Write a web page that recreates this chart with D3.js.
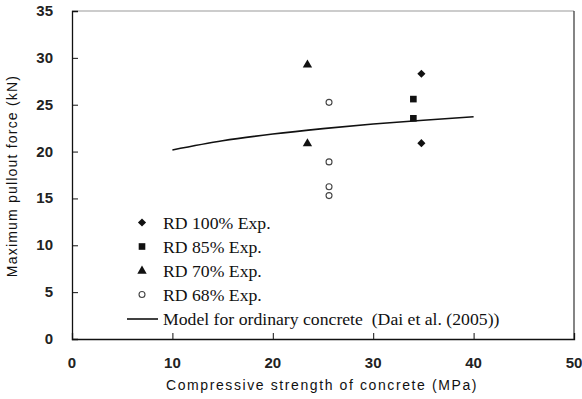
<!DOCTYPE html>
<html>
<head>
<meta charset="utf-8">
<script src="https://cdn.jsdelivr.net/npm/d3@7"></script>
<style>
  html, body { margin: 0; padding: 0; background: #fff; }
  svg { display: block; }
</style>
</head>
<body>
<svg id="chart" width="582" height="399"></svg>
<script>
// Experimental pullout results, grouped by relative density (RD)
const rd100 = [[34.8, 28.3], [34.8, 20.9]];
const rd85  = [[34.0, 25.6], [34.0, 23.55]];
const rd70  = [[23.45, 29.25], [23.45, 20.85]];
const rd68  = [[25.6, 25.25], [25.6, 18.9], [25.6, 16.25], [25.6, 15.3]];

// Model curve for ordinary concrete (Dai et al. 2005)
const modelX = [10, 15, 20, 25, 30, 35, 40];
const modelY = [20.17, 21.15, 21.87, 22.45, 22.94, 23.35, 23.72];

const xTicks = [0, 10, 20, 30, 40, 50];
const yTicks = [0, 5, 10, 15, 20, 25, 30, 35];

const legendLabels = ["RD 100% Exp.", "RD 85% Exp.", "RD 70% Exp.", "RD 68% Exp.",
  "Model for ordinary concrete  (Dai et al. (2005))"];

const svg = d3.select("#chart");
const plotLeft = 72, plotRight = 574, plotTop = 11, plotBottom = 339;

const x = d3.scaleLinear().domain([0, 50]).range([plotLeft, plotRight]);
const y = d3.scaleLinear().domain([0, 35]).range([plotBottom, plotTop]);

// Frame: top and right borders
svg.append("line").attr("x1", plotLeft).attr("x2", plotRight).attr("y1", plotTop).attr("y2", plotTop)
  .attr("stroke", "#999").attr("stroke-width", 1);
svg.append("line").attr("x1", plotRight).attr("x2", plotRight).attr("y1", plotTop).attr("y2", plotBottom)
  .attr("stroke", "#333").attr("stroke-width", 1.2);

const tickFont = "'Liberation Sans', Arial, sans-serif";

// Axes with inward ticks
const xAxis = d3.axisTop(x).tickValues(xTicks).tickSize(6).tickFormat("");
const gx = svg.append("g").attr("transform", `translate(0,${plotBottom})`).call(xAxis);
gx.select(".domain").attr("stroke", "#111").attr("stroke-width", 1.3);
gx.selectAll(".tick line").attr("stroke", "#111");

const yAxis = d3.axisRight(y).tickValues(yTicks).tickSize(6).tickFormat("");
const gy = svg.append("g").attr("transform", `translate(${plotLeft},0)`).call(yAxis);
gy.select(".domain").attr("stroke", "#111").attr("stroke-width", 1.3);
gy.selectAll(".tick line").attr("stroke", "#111");

// Tick labels
svg.append("g").selectAll("text").data(xTicks).join("text")
  .attr("x", d => x(d)).attr("y", 368)
  .attr("text-anchor", "middle")
  .attr("font-family", tickFont).attr("font-size", 15).attr("font-weight", "bold")
  .attr("fill", "#222")
  .text(d => d);

svg.append("g").selectAll("text").data(yTicks).join("text")
  .attr("x", 53).attr("y", d => y(d) + 5)
  .attr("text-anchor", "end")
  .attr("font-family", tickFont).attr("font-size", 15).attr("font-weight", "bold")
  .attr("fill", "#222")
  .text(d => d);

// Axis titles
svg.append("text")
  .attr("x", 322).attr("y", 390)
  .attr("text-anchor", "middle")
  .attr("font-family", tickFont).attr("font-size", 14)
  .attr("letter-spacing", 1.6)
  .attr("fill", "#111")
  .text("Compressive strength of concrete (MPa)");

svg.append("text")
  .attr("transform", "translate(17,176) rotate(-90)")
  .attr("text-anchor", "middle")
  .attr("font-family", tickFont).attr("font-size", 14)
  .attr("letter-spacing", 1.2)
  .attr("fill", "#111")
  .text("Maximum pullout force (kN)");

// Model line
const line = d3.line().x(d => x(d[0])).y(d => y(d[1])).curve(d3.curveMonotoneX);
svg.append("path")
  .datum(modelX.map((v, i) => [v, modelY[i]]))
  .attr("d", line)
  .attr("fill", "none").attr("stroke", "#111").attr("stroke-width", 1.6);

// Marker shapes
const sym = {
  diamond: d3.symbol().type(d3.symbolDiamond2).size(42),
  square: d3.symbol().type(d3.symbolSquare).size(44),
  triangle: d3.symbol().type(d3.symbolTriangle).size(38),
  circle: d3.symbol().type(d3.symbolCircle).size(28)
};

function drawSeries(data, kind) {
  const g = svg.append("g");
  g.selectAll("path").data(data).join("path")
    .attr("transform", d => `translate(${x(d[0])},${y(d[1])})`)
    .attr("d", sym[kind]())
    .attr("fill", kind === "circle" ? "#fff" : "#111")
    .attr("stroke", kind === "circle" ? "#444" : "none")
    .attr("stroke-width", 1.1);
}
drawSeries(rd100, "diamond");
drawSeries(rd85, "square");
drawSeries(rd70, "triangle");
drawSeries(rd68, "circle");

// Legend
const legendKinds = ["diamond", "square", "triangle", "circle", "line"];
const legRowY = [222.5, 246.5, 271, 294.5, 319];
const leg = svg.append("g");
legendKinds.forEach((k, i) => {
  const cy = legRowY[i];
  if (k === "line") {
    leg.append("line").attr("x1", 127).attr("x2", 158).attr("y1", cy).attr("y2", cy)
      .attr("stroke", "#111").attr("stroke-width", 1.6);
  } else {
    leg.append("path")
      .attr("transform", `translate(142,${cy})`)
      .attr("d", sym[k]())
      .attr("fill", k === "circle" ? "#fff" : "#111")
      .attr("stroke", k === "circle" ? "#444" : "none")
      .attr("stroke-width", 1.1);
  }
  leg.append("text")
    .attr("x", 163).attr("y", cy + 6)
    .attr("font-family", "'Liberation Serif', 'Times New Roman', serif")
    .attr("font-size", 17.7)
    .attr("fill", "#111")
    .style("white-space", "pre")
    .text(legendLabels[i]);
});
</script>
</body>
</html>
